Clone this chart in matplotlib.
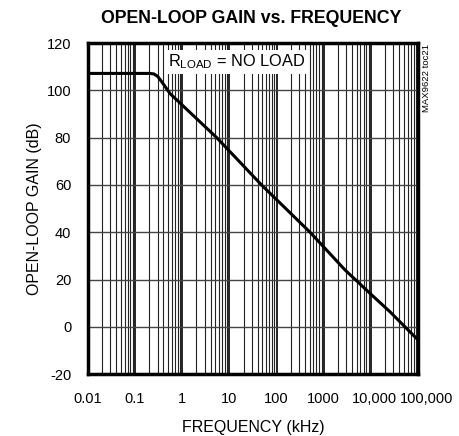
import matplotlib
matplotlib.use("Agg")
import matplotlib.pyplot as plt
import matplotlib.transforms as mtransforms
from matplotlib.ticker import FixedLocator, LogLocator, NullFormatter

plt.rcParams['font.family'] = ['Liberation Sans', 'DejaVu Sans']
plt.rcParams['mathtext.fontset'] = 'custom'
plt.rcParams['mathtext.rm'] = 'Liberation Sans'
plt.rcParams['mathtext.it'] = 'Liberation Sans'
plt.rcParams['axes.unicode_minus'] = False

# open-loop gain
freq_khz = [0.01, 0.1, 0.2, 0.25, 0.3, 0.37, 0.45, 0.55, 1, 5.4, 48, 512, 2840, 10470, 25500, 100000]
gain_db = [107.2, 107.2, 107.2, 107.0, 106.0, 103.6, 101.2, 98.7, 93.8, 80, 60, 40, 24, 13.4, 6.3, -5.6]

xticks = [0.01, 0.1, 1, 10, 100, 1000, 10000, 100000]
xlabels = ["0.01", "0.1", "1", "10", "100", "1000", "10,000", "100,000"]
yticks = [-20, 0, 20, 40, 60, 80, 100, 120]

fig = plt.figure(figsize=(4.6, 4.36), dpi=100)
ax = fig.add_axes([0.191, 0.142, 0.718, 0.759])

ax.plot(freq_khz, gain_db, color="black", lw=2.2, zorder=3)

ax.set_xscale("log")
ax.set_xlim(0.01, 100000)
ax.set_ylim(-20, 120)
ax.xaxis.set_major_locator(FixedLocator(xticks))
ax.set_xticklabels(xlabels)
ax.xaxis.set_minor_locator(LogLocator(base=10, subs=range(2, 10), numticks=20))
ax.xaxis.set_minor_formatter(NullFormatter())
ax.set_yticks(yticks)

ax.grid(True, which="major", axis="x", color="black", lw=1.2)
ax.grid(True, which="minor", axis="x", color="#222222", lw=0.8)
ax.grid(True, which="major", axis="y", color="#444444", lw=1.0)
ax.tick_params(axis="both", which="both", length=0, labelsize=10.5)
ax.tick_params(axis="x", pad=13)
ax.tick_params(axis="y", pad=12)

# the last two labels sit a bit right of their ticks, like the original
labs = ax.get_xticklabels()
for lab, dx in zip(labs[-2:], [3, 8]):
    lab.set_transform(lab.get_transform() + mtransforms.ScaledTranslation(dx / 100, 0, fig.dpi_scale_trans))

for s in ax.spines.values():
    s.set_linewidth(2.5)

ax.set_xlabel("FREQUENCY (kHz)", fontsize=11.5, labelpad=10)
ax.set_ylabel("OPEN-LOOP GAIN (dB)", fontsize=11.5, labelpad=3)
fig.text(0.545, 0.958, "OPEN-LOOP GAIN vs. FREQUENCY", fontsize=12.8,
         fontweight="bold", ha="center", va="center")

ax.text(14.5, 112, r"$\mathregular{R_{LOAD}}$ = NO LOAD", fontsize=11.8, ha="center", va="center",
        bbox=dict(facecolor="white", edgecolor="none", pad=2), zorder=4)
fig.text(0.928, 0.82, "MAX9622 toc21", fontsize=6.8, rotation=90, ha="center", va="center")

fig.savefig("out.png", dpi=100)
